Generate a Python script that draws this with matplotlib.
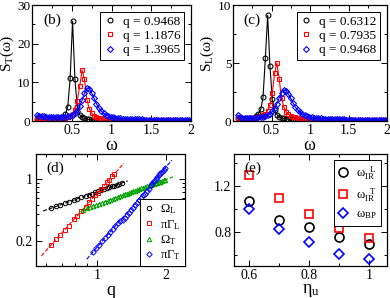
import numpy as np
import matplotlib
matplotlib.use('Agg')
import matplotlib.pyplot as plt
from matplotlib.ticker import MultipleLocator, FixedLocator, FixedFormatter, NullFormatter, LogLocator

plt.rcParams['font.family'] = ['Liberation Serif', 'DejaVu Serif']
plt.rcParams['mathtext.fontset'] = 'custom'
plt.rcParams['mathtext.rm'] = 'Liberation Serif'
plt.rcParams['mathtext.it'] = 'Liberation Serif'
plt.rcParams['mathtext.bf'] = 'Liberation Serif'

# ---- (b)/(c) frequency grid and spectra ----
omega = [0.06, 0.09, 0.12, 0.15, 0.18, 0.21, 0.24, 0.27, 0.30, 0.33, 0.36,
         0.39, 0.42, 0.45, 0.48, 0.51, 0.54, 0.57, 0.60, 0.63, 0.66, 0.69,
         0.72, 0.75, 0.78, 0.81, 0.84, 0.87, 0.90, 0.93, 0.96, 0.99, 1.02,
         1.05, 1.08, 1.11, 1.14, 1.17, 1.20, 1.23, 1.26, 1.29, 1.32, 1.35,
         1.38, 1.41, 1.44, 1.47, 1.50, 1.53, 1.56, 1.59, 1.62, 1.65, 1.68,
         1.71, 1.74, 1.77, 1.80, 1.83, 1.86, 1.89, 1.92, 1.95, 1.98, 2.01]

sT_q1 = [0.5, 0.45, 0.4, 0.4, 0.4, 0.4, 0.45, 0.5, 0.6, 0.7, 0.85,
         1.1, 1.7, 3.7, 11.0, 25.8, 10.9, 3.5, 1.6, 0.95, 0.65, 0.5,
         0.4, 0.33, 0.28, 0.25, 0.22, 0.2, 0.18, 0.17, 0.16, 0.15,
         0.14, 0.13, 0.13, 0.12, 0.12, 0.11, 0.11, 0.1, 0.1, 0.1,
         0.09, 0.09, 0.09, 0.09, 0.08, 0.08, 0.08, 0.08, 0.08, 0.07,
         0.07, 0.07, 0.07, 0.07, 0.07, 0.06, 0.06, 0.06, 0.06, 0.06,
         0.06, 0.06, 0.05, 0.05]
sT_q2 = [0.9, 0.8, 0.7, 0.6, 0.55, 0.5, 0.5, 0.5, 0.5, 0.52, 0.56,
         0.63, 0.75, 0.95, 1.25, 1.8, 2.9, 5.3, 9.0, 13.2, 10.8, 5.5,
         3.2, 2.0, 1.4, 1.0, 0.8, 0.65, 0.55, 0.47, 0.42, 0.38,
         0.35, 0.32, 0.3, 0.28, 0.26, 0.25, 0.24, 0.23, 0.22, 0.21,
         0.2, 0.19, 0.19, 0.18, 0.18, 0.17, 0.17, 0.16, 0.16, 0.15,
         0.15, 0.15, 0.14, 0.14, 0.14, 0.13, 0.13, 0.13, 0.13, 0.12,
         0.12, 0.12, 0.12, 0.11]
sT_q3 = [1.5, 1.4, 1.3, 1.2, 1.1, 1.05, 1.0, 1.0, 1.0, 1.0, 1.0,
         1.05, 1.1, 1.2, 1.35, 1.6, 2.0, 2.7, 3.8, 5.4, 7.2, 8.5,
         8.4, 7.3, 5.9, 4.5, 3.4, 2.6, 2.0, 1.6, 1.3, 1.1,
         0.95, 0.85, 0.77, 0.7, 0.64, 0.6, 0.56, 0.52, 0.49, 0.46,
         0.44, 0.42, 0.4, 0.38, 0.37, 0.36, 0.34, 0.33, 0.32, 0.31,
         0.3, 0.29, 0.29, 0.28, 0.27, 0.27, 0.26, 0.26, 0.25, 0.25,
         0.24, 0.24, 0.23, 0.23]
qT_labels = ['q = 0.9468', 'q = 1.1876', 'q = 1.3965']

sL_q1 = [0.25, 0.2, 0.18, 0.18, 0.19, 0.21, 0.24, 0.3, 0.4, 0.6, 1.0,
         2.05, 5.4, 9.1, 4.7, 1.9, 0.95, 0.55, 0.37, 0.28, 0.22, 0.18,
         0.16, 0.14, 0.13, 0.12, 0.11, 0.1, 0.1, 0.09, 0.09, 0.08,
         0.08, 0.08, 0.07, 0.07, 0.07, 0.07, 0.06, 0.06, 0.06, 0.06,
         0.06, 0.05, 0.05, 0.05, 0.05, 0.05, 0.05, 0.05, 0.04, 0.04,
         0.04, 0.04, 0.04, 0.04, 0.04, 0.04, 0.04, 0.04, 0.03, 0.03,
         0.03, 0.03, 0.03, 0.03]
sL_q2 = [0.3, 0.25, 0.22, 0.22, 0.23, 0.24, 0.26, 0.28, 0.31, 0.35, 0.4,
         0.48, 0.62, 0.9, 1.4, 2.4, 4.1, 5.0, 3.6, 2.0, 1.2, 0.8,
         0.58, 0.45, 0.37, 0.31, 0.27, 0.24, 0.22, 0.2, 0.18, 0.17,
         0.16, 0.15, 0.14, 0.13, 0.12, 0.12, 0.11, 0.11, 0.1, 0.1,
         0.09, 0.09, 0.09, 0.08, 0.08, 0.08, 0.08, 0.07, 0.07, 0.07,
         0.07, 0.07, 0.06, 0.06, 0.06, 0.06, 0.06, 0.06, 0.06, 0.05,
         0.05, 0.05, 0.05, 0.05]
sL_q3 = [0.5, 0.32, 0.26, 0.24, 0.24, 0.25, 0.26, 0.27, 0.29, 0.31, 0.33,
         0.37, 0.42, 0.5, 0.62, 0.82, 1.1, 1.5, 2.0, 2.45, 2.7, 2.6,
         2.3, 1.95, 1.55, 1.2, 0.95, 0.75, 0.6, 0.5, 0.42, 0.36,
         0.32, 0.29, 0.26, 0.24, 0.22, 0.2, 0.19, 0.18, 0.17, 0.16,
         0.15, 0.14, 0.14, 0.13, 0.13, 0.12, 0.12, 0.11, 0.11, 0.11,
         0.1, 0.1, 0.1, 0.1, 0.09, 0.09, 0.09, 0.09, 0.08, 0.08,
         0.08, 0.08, 0.08, 0.08]
qL_labels = ['q = 0.6312', 'q = 0.7935', 'q = 0.9468']

# ---- (d) dispersion and damping ----
q_long = [0.63, 0.66, 0.69, 0.72, 0.75, 0.79, 0.82, 0.85, 0.89, 0.92, 0.95,
          0.98, 1.01, 1.04, 1.07, 1.10, 1.13, 1.16, 1.19, 1.22, 1.25, 1.28]
omega_L = [0.467, 0.489, 0.506, 0.530, 0.546, 0.577, 0.593, 0.617, 0.639,
           0.663, 0.679, 0.703, 0.719, 0.742, 0.758, 0.781, 0.797, 0.820,
           0.836, 0.859, 0.875, 0.898]
q_gammaL = [0.63, 0.66, 0.69, 0.72, 0.75, 0.79, 0.82, 0.85, 0.89, 0.92, 0.95,
            0.98, 1.01, 1.04, 1.07, 1.10, 1.13, 1.16, 1.19]
gamma_L = [0.180, 0.208, 0.232, 0.267, 0.295, 0.349, 0.381, 0.432, 0.484,
           0.543, 0.585, 0.651, 0.698, 0.773, 0.825, 0.909, 0.966, 1.060,
           1.121]

q_trans = [0.87, 0.90, 0.93, 0.96, 0.99, 1.02, 1.05, 1.08, 1.11, 1.14, 1.17,
           1.20, 1.23, 1.26, 1.29, 1.32, 1.35, 1.38, 1.41, 1.44, 1.47, 1.50,
           1.53, 1.56, 1.59, 1.62, 1.65, 1.68, 1.71, 1.74, 1.77, 1.80, 1.83,
           1.86, 1.89, 1.92, 1.95, 1.98]
omega_T = [0.449, 0.466, 0.476, 0.495, 0.505, 0.524, 0.534, 0.552, 0.563,
           0.581, 0.591, 0.610, 0.620, 0.638, 0.648, 0.667, 0.677, 0.695,
           0.705, 0.723, 0.733, 0.752, 0.762, 0.780, 0.790, 0.808, 0.818,
           0.836, 0.846, 0.864, 0.874, 0.892, 0.902, 0.919, 0.929, 0.947,
           0.957, 0.975]
q_gammaT = q_trans[3:]
gamma_T = [0.150, 0.166, 0.179, 0.198, 0.213, 0.234, 0.250, 0.274, 0.292,
           0.318, 0.338, 0.342, 0.363, 0.393, 0.416, 0.449, 0.474, 0.510,
           0.537, 0.577, 0.606, 0.649, 0.680, 0.727, 0.760, 0.854, 0.893,
           0.947, 0.987, 1.047, 1.089, 1.153, 1.198, 1.266, 1.314]

fit_q_L = [0.58, 1.36]
fit_omega_L = [0.433, 0.947]
fit_q_gL = [0.57, 1.31]
fit_gamma_L = [0.135, 1.50]
fit_q_T = [0.85, 2.15]
fit_omega_T = [0.439, 1.051]
fit_q_gT = [0.90, 2.12]
fit_gamma_T = [0.124, 1.62]

# ---- (e) characteristic frequencies vs eta_u ----
eta_u = [0.6, 0.7, 0.8, 0.9, 1.0]
omega_IR_L = [1.07, 0.904, 0.837, 0.757, 0.693]
omega_IR_T = [1.296, 1.092, 0.953, 0.829, 0.745]
omega_BP = [0.996, 0.822, 0.713, 0.605, 0.562]

blue = '#0000ff'
red = '#ff0000'
green = '#00a000'
lw = 0.8

fig = plt.figure(figsize=(3.9, 2.98), dpi=100)
ax_b = fig.add_axes([32/390, 1 - 121/298, 159/390, 116/298])
ax_c = fig.add_axes([233/390, 1 - 121/298, 154/390, 116/298])
ax_d = fig.add_axes([36/390, 1 - 266/298, 149/390, 112/298])
ax_e = fig.add_axes([234/390, 1 - 266/298, 153/390, 112/298])


def style(ax):
    for s in ax.spines.values():
        s.set_linewidth(0.9)
    ax.tick_params(which='both', direction='in', top=True, right=True,
                   labelsize=10, width=0.7, pad=2)
    ax.tick_params(which='major', length=4)
    ax.tick_params(which='minor', length=2)


mk = dict(markerfacecolor='none', markeredgewidth=0.8, markersize=3.5,
          linewidth=lw)


def spectra(ax, series, labels, ymax, ymaj, ymin, ylabel, tag, ylab_x):
    ax.plot(omega, series[0], 'o-', color='black', label=labels[0], **mk)
    ax.plot(omega, series[1], 's-', color=red, label=labels[1], **mk)
    ax.plot(omega, series[2], 'D-', color=blue, label=labels[2],
            markerfacecolor='none', markeredgewidth=0.8, markersize=3.0,
            linewidth=lw)
    ax.set_xlim(0, 2.0)
    ax.set_ylim(0, ymax)
    ax.set_xticks([0.5, 1, 1.5, 2])
    ax.set_xticklabels(['0.5', '1', '1.5', '2'])
    ax.xaxis.set_minor_locator(MultipleLocator(0.25))
    ax.yaxis.set_major_locator(MultipleLocator(ymaj))
    ax.yaxis.set_minor_locator(MultipleLocator(ymin))
    ax.set_xlabel(r'$\omega$', fontsize=13, labelpad=0)
    ax.set_ylabel(ylabel, fontsize=11)
    ax.yaxis.set_label_coords(ylab_x, 0.58)
    style(ax)
    ax.tick_params(axis='y', labelsize=9.5, pad=1)
    ax.text(0.07, 0.93, tag, transform=ax.transAxes, fontsize=11,
            va='top', ha='left')
    leg = ax.legend(loc='upper right', fontsize=9.5, handlelength=0.8,
                    handletextpad=0.6, labelspacing=0.15, borderpad=0.3,
                    fancybox=False, framealpha=1, edgecolor='black',
                    borderaxespad=0.5)
    leg.get_frame().set_linewidth(0.7)
    for h in leg.legend_handles:
        h.set_linestyle('none')


spectra(ax_b, [sT_q1, sT_q2, sT_q3], qT_labels, 30, 10, 5,
        r'$\mathrm{S_T(\omega)}$', '(b)', -0.1)
spectra(ax_c, [sL_q1, sL_q2, sL_q3], qL_labels, 10, 5, 2.5,
        r'$\mathrm{S_L(\omega)}$', '(c)', -0.11)

# (d)
dm = dict(markerfacecolor='none', markeredgewidth=0.7, markersize=3.2,
          linestyle='none')
ax_d.plot(fit_q_L, fit_omega_L, '--', color='black', linewidth=lw)
ax_d.plot(fit_q_gL, fit_gamma_L, '--', color=red, linewidth=lw)
ax_d.plot(fit_q_T, fit_omega_T, '--', color=green, linewidth=lw)
ax_d.plot(fit_q_gT, fit_gamma_T, '--', color=blue, linewidth=lw)
ax_d.plot(q_long, omega_L, 'o', color='black', label=r'$\Omega_L$', **dm)
ax_d.plot(q_gammaL, gamma_L, 's', color=red, label=r'$\pi\Gamma_L$', **dm)
ax_d.plot(q_trans, omega_T, '^', color=green, label=r'$\Omega_T$', **dm)
ax_d.plot(q_gammaT, gamma_T, 'D', color=blue, label=r'$\pi\Gamma_T$',
          markerfacecolor='none', markeredgewidth=0.7, markersize=2.8,
          linestyle='none')
ax_d.set_xscale('log')
ax_d.set_yscale('log')
ax_d.set_xlim(0.54, 2.42)
ax_d.set_ylim(0.104, 1.9)
ax_d.xaxis.set_major_locator(FixedLocator([1, 2]))
ax_d.xaxis.set_minor_locator(LogLocator(base=10, subs=np.arange(2, 10) * 0.1, numticks=20))
ax_d.xaxis.set_major_formatter(FixedFormatter(['1', '2']))
ax_d.xaxis.set_minor_formatter(NullFormatter())
ax_d.yaxis.set_major_locator(FixedLocator([0.2, 1]))
ax_d.yaxis.set_major_formatter(FixedFormatter(['0.2', '1']))
ax_d.yaxis.set_minor_formatter(NullFormatter())
ax_d.set_xlabel('q', fontsize=13, labelpad=0)
style(ax_d)
ax_d.text(0.07, 0.93, '(d)', transform=ax_d.transAxes, fontsize=11,
          va='top', ha='left')
leg = ax_d.legend(loc='lower right', fontsize=9, handlelength=0.7,
                  handletextpad=0.6, labelspacing=0.12, borderpad=0.3,
                  fancybox=False, framealpha=1, edgecolor='black',
                  borderaxespad=0.0)
leg.get_frame().set_linewidth(0.7)

# (e)
em = dict(markerfacecolor='none', markeredgewidth=1.2, linestyle='none')
ax_e.plot(eta_u, omega_IR_L, 'o', color='black', markersize=6.5,
          label=r'$\omega_{IR}^{\ \ L}$', **em)
ax_e.plot(eta_u, omega_IR_T, 's', color=red, markersize=6,
          label=r'$\omega_{IR}^{\ \ T}$', **em)
ax_e.plot(eta_u, omega_BP, 'D', color=blue, markersize=5.5,
          label=r'$\omega_{BP}$', **em)
ax_e.set_xlim(0.55, 1.06)
ax_e.set_ylim(0.5, 1.48)
ax_e.set_xticks([0.6, 0.8, 1.0])
ax_e.set_xticklabels(['0.6', '0.8', '1'])
ax_e.xaxis.set_minor_locator(MultipleLocator(0.1))
ax_e.set_yticks([0.8, 1.2])
ax_e.yaxis.set_minor_locator(MultipleLocator(0.2))
ax_e.set_xlabel(r'$\eta_u$', fontsize=13, labelpad=0)
style(ax_e)
ax_e.text(0.07, 0.93, '(e)', transform=ax_e.transAxes, fontsize=11,
          va='top', ha='left')
leg = ax_e.legend(loc='upper right', fontsize=9, handlelength=0.8,
                  handletextpad=0.6, labelspacing=0.35, borderpad=0.35,
                  fancybox=False, framealpha=1, edgecolor='black',
                  borderaxespad=0.5)
leg.get_frame().set_linewidth(0.7)

fig.savefig('out.png', dpi=100)
